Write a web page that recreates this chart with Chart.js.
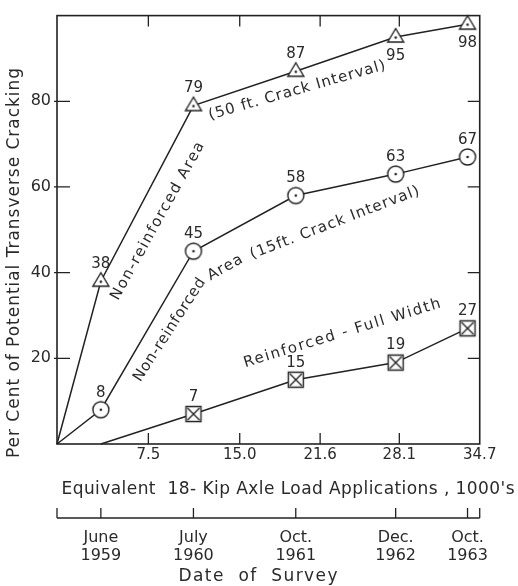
<!DOCTYPE html>
<html>
<head>
<meta charset="utf-8">
<script src="https://cdn.jsdelivr.net/npm/chart.js@4/dist/chart.umd.min.js"></script>
<style>
  html,body{margin:0;padding:0;background:#fff;}
  canvas{display:block;}
</style>
</head>
<body>
<canvas id="c" width="518" height="586"></canvas>
<script>
// ---- data ----
const surveyX = [3.6, 11.2, 19.6, 27.8, 33.7];           // 1000's of applications at each survey
const surveyDates = [["June","1959"],["July","1960"],["Oct.","1961"],["Dec.","1962"],["Oct.","1963"]];
const crack50 = [38, 79, 87, 95, 98];                   // Non-reinforced area (50 ft crack interval)
const crack15 = [8, 45, 58, 63, 67];                    // Non-reinforced area (15 ft crack interval)
const reinforced = [0, 7, 15, 19, 27];                  // Reinforced - full width
const xTicks = [7.5, 15.0, 21.6, 28.1, 34.7];
const xTickLabels = ["7.5", "15.0", "21.6", "28.1", "34.7"];
const yTicks = [20, 40, 60, 80];

const FONT = '"DejaVu Sans", sans-serif';
const TXT = '#2a2a2a';
const INK = '#222';

// ---- marker images ----
function mk(draw) {
  const c = document.createElement('canvas');
  c.width = 22; c.height = 22;
  const g = c.getContext('2d');
  g.strokeStyle = INK; g.fillStyle = '#fff'; g.lineWidth = 1.4;
  draw(g);
  return c;
}
const triImg = mk(g => {
  g.beginPath(); g.moveTo(11, 2.5); g.lineTo(19, 16); g.lineTo(3, 16); g.closePath();
  g.fill(); g.stroke();
  g.fillStyle = INK; g.beginPath(); g.arc(11, 11.5, 1.3, 0, Math.PI * 2); g.fill();
});
const circImg = mk(g => {
  g.beginPath(); g.arc(11, 11, 8, 0, Math.PI * 2); g.fill(); g.stroke();
  g.fillStyle = INK; g.beginPath(); g.arc(11, 11, 1.3, 0, Math.PI * 2); g.fill();
});
const sqImg = mk(g => {
  g.beginPath(); g.rect(3.5, 3.5, 15, 15); g.fill(); g.stroke();
  g.beginPath(); g.moveTo(5, 5); g.lineTo(17, 17); g.moveTo(17, 5); g.lineTo(5, 17); g.stroke();
});

function series(vals, withOrigin) {
  const pts = surveyX.map((x, i) => ({ x: x, y: vals[i] }));
  return withOrigin ? [{ x: 0, y: 0 }].concat(pts) : pts;
}
function radii(n, first0) { return Array.from({ length: n }, (_, i) => (first0 && i === 0) ? 0 : 8); }

const d50 = series(crack50, true);
const d15 = series(crack15, true);
const dR = series(reinforced, false);

// ---- annotation texts (anchored in data units) ----
const notes = [
  { t: "Non-reinforced Area", x: 8.27, y: 52.0, a: -61, len: 178 },
  { t: "(50 ft. Crack Interval)", x: 19.7, y: 82.5, a: -16, len: 183 },
  { t: "Non-reinforced", x: 9.25, y: 26.6, a: -57, len: 120 },
  { t: "Area", x: 13.8, y: 41.1, a: -29, len: 38 },
  { t: "(15ft. Crack Interval)", x: 22.8, y: 51.6, a: -21, len: 180 },
  { t: "Reinforced - Full Width", x: 23.4, y: 25.8, a: -17, len: 205 }
];
const labelBelow = { 0: [3, 4] };  // dataset 0: indices (in surveyX) labelled below

function spacedText(ctx, text, cx, cy, ang, size, len) {
  ctx.save();
  ctx.translate(cx, cy);
  ctx.rotate(ang * Math.PI / 180);
  ctx.font = size + 'px ' + FONT;
  ctx.fillStyle = TXT;
  ctx.textAlign = 'left';
  ctx.textBaseline = 'middle';
  const w = ctx.measureText(text).width;
  let ls = 0;
  if (len && text.length > 1) ls = (len - w) / (text.length - 1);
  ctx.letterSpacing = ls + 'px';
  ctx.fillText(text, -len / 2, 0);
  ctx.restore();
}

const framePlugin = {
  id: 'frame',
  beforeDatasetsDraw(chart) {
    const ctx = chart.ctx;
    const a = chart.chartArea;
    const xs = chart.scales.x, ys = chart.scales.y, x2 = chart.scales.x2;
    ctx.save();
    ctx.strokeStyle = INK;
    ctx.lineWidth = 1.6;
    ctx.strokeRect(a.left, a.top, a.right - a.left, a.bottom - a.top);
    ctx.lineWidth = 1.3;
    ctx.beginPath();
    xTicks.forEach(v => {
      const px = xs.getPixelForValue(v);
      if (v < xs.max) {
        ctx.moveTo(px, a.bottom); ctx.lineTo(px, a.bottom - 11);
        ctx.moveTo(px, a.top); ctx.lineTo(px, a.top + 11);
      }
    });
    yTicks.forEach(v => {
      const py = ys.getPixelForValue(v);
      ctx.moveTo(a.left - 3, py); ctx.lineTo(a.left + 13, py);
      ctx.moveTo(a.right, py); ctx.lineTo(a.right - 12, py);
    });
    ctx.stroke();
    // date-of-survey axis
    const ly = x2.top + 18;
    ctx.beginPath();
    ctx.lineWidth = 1.6;
    ctx.moveTo(x2.getPixelForValue(0), ly); ctx.lineTo(x2.getPixelForValue(x2.max), ly);
    ctx.stroke();
    ctx.lineWidth = 1.3;
    ctx.beginPath();
    [0].concat(surveyX, [x2.max]).forEach(v => {
      const px = x2.getPixelForValue(v);
      ctx.moveTo(px, ly); ctx.lineTo(px, ly - 10);
    });
    ctx.stroke();
    ctx.restore();
  },
  afterDraw(chart) {
    const ctx = chart.ctx;
    const xs = chart.scales.x, ys = chart.scales.y;
    // point value labels
    ctx.save();
    ctx.font = '15px ' + FONT;
    ctx.fillStyle = TXT;
    ctx.textAlign = 'center';
    ctx.textBaseline = 'middle';
    chart.data.datasets.forEach((ds, di) => {
      const meta = chart.getDatasetMeta(di);
      const off = ds.withOrigin ? 1 : 0;
      surveyX.forEach((_, i) => {
        const el = meta.data[i + off];
        if (ds.pointRadius[i + off] === 0) return;
        const below = labelBelow[di] && labelBelow[di].includes(i);
        ctx.fillText(String(ds.vals[i]), el.x, el.y + (below ? 19 : -17));
      });
    });
    ctx.restore();
    // annotations
    notes.forEach(n => {
      spacedText(ctx, n.t, xs.getPixelForValue(n.x), ys.getPixelForValue(n.y), n.a, 15, n.len);
    });
    // axis titles
    spacedText(ctx, "Per Cent of Potential Transverse Cracking", 15, 263, -90, 17, 390);
    spacedText(ctx, "Equivalent  18- Kip Axle Load Applications , 1000's", 288, 490, 0, 17, 453);
    spacedText(ctx, "Date  of  Survey", 258, 577, 0, 17, 159);
  }
};

const noGrid = { display: false, drawTicks: false, tickLength: 0 };

new Chart(document.getElementById('c'), {
  type: 'line',
  data: {
    datasets: [
      { data: d50, vals: crack50, withOrigin: true, pointStyle: triImg, pointRadius: radii(d50.length, true) },
      { data: d15, vals: crack15, withOrigin: true, pointStyle: circImg, pointRadius: radii(d15.length, true) },
      { data: dR, vals: reinforced, withOrigin: false, pointStyle: sqImg, pointRadius: radii(dR.length, true) }
    ].map(d => Object.assign({
      borderColor: INK, borderWidth: 1.5, backgroundColor: '#fff', tension: 0, fill: false,
      pointHoverRadius: 8, clip: 12
    }, d))
  },
  options: {
    responsive: false,
    animation: false,
    events: [],
    layout: { padding: { left: 0, top: 13.5, right: 29, bottom: 0 } },
    plugins: { legend: { display: false }, tooltip: { enabled: false } },
    scales: {
      x: {
        type: 'linear', position: 'bottom', weight: 0, min: 0, max: 34.7,
        afterBuildTicks: s => { s.ticks = xTicks.map(v => ({ value: v })); },
        afterFit: s => { s.height = 56; },
        grid: noGrid, border: { display: false },
        ticks: {
          autoSkip: false, maxRotation: 0, padding: 2, color: TXT,
          font: { family: FONT, size: 15 },
          callback: (v, i) => xTickLabels[i]
        }
      },
      x2: {
        type: 'linear', position: 'bottom', weight: 1, min: 0, max: 34.7,
        afterBuildTicks: s => { s.ticks = surveyX.map(v => ({ value: v })); },
        afterFit: s => { s.height = 86; },
        grid: noGrid, border: { display: false },
        ticks: {
          autoSkip: false, maxRotation: 0, padding: 29, color: TXT,
          font: { family: FONT, size: 16, lineHeight: 1.125 },
          callback: (v, i) => surveyDates[i]
        }
      },
      y: {
        type: 'linear', position: 'left', min: 0, max: 100,
        afterBuildTicks: s => { s.ticks = yTicks.map(v => ({ value: v })); },
        afterFit: s => { s.width = 57; },
        grid: noGrid, border: { display: false },
        ticks: { padding: 6, color: TXT, font: { family: FONT, size: 16 } }
      }
    }
  },
  plugins: [framePlugin]
});
</script>
</body>
</html>
